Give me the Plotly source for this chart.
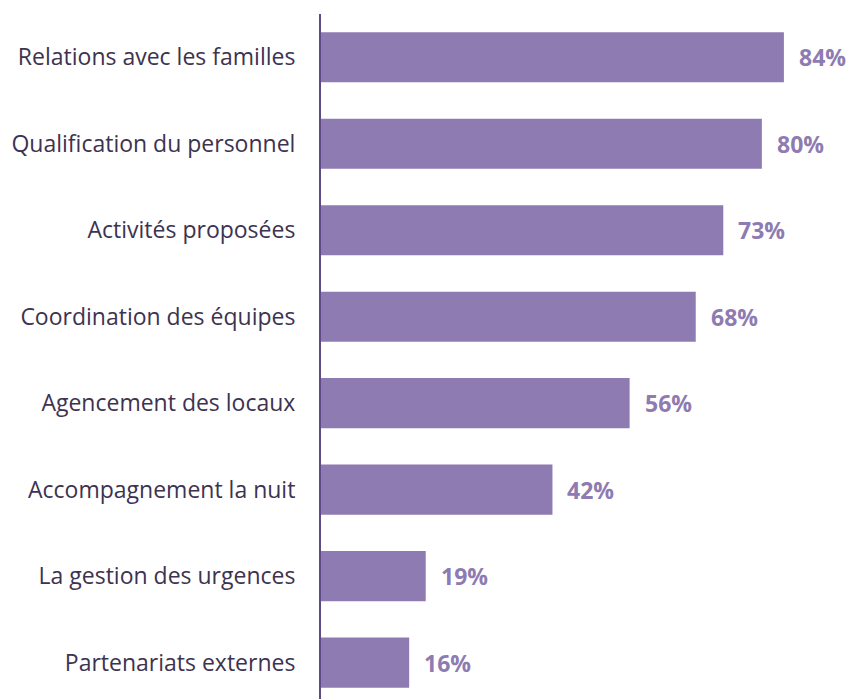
import plotly.graph_objects as go

# Share of respondents satisfied, by topic
categories = [
    "Relations avec les familles",
    "Qualification du personnel",
    "Activités proposées",
    "Coordination des équipes",
    "Agencement des locaux",
    "Accompagnement la nuit",
    "La gestion des urgences",
    "Partenariats externes",
]
values = [84, 80, 73, 68, 56, 42, 19, 16]

bar_color = "#8e7bb2"
label_color = "#8e7bb2"
text_color = "#3d3350"
axis_color = "#5e4a86"

fig = go.Figure()
fig.add_trace(go.Bar(
    x=values,
    y=categories,
    orientation="h",
    marker=dict(color=bar_color, line=dict(width=0)),
    width=0.58,
    hoverinfo="skip",
))

for cat, val in zip(categories, values):
    fig.add_annotation(
        x=val, y=cat, text=f"<b>{val}%</b>",
        xanchor="left", yanchor="middle", xshift=13, showarrow=False,
        font=dict(family="Open Sans", size=23, color=label_color),
    )

fig.update_layout(
    width=855, height=699,
    margin=dict(l=321, r=0, t=14, b=0),
    paper_bgcolor="white", plot_bgcolor="white",
    showlegend=False,
    xaxis=dict(range=[0, 96.9], visible=False, fixedrange=True),
    yaxis=dict(
        categoryorder="array", categoryarray=categories,
        range=[7.42, -0.5],
        showgrid=False, zeroline=False,
        showline=True, linecolor=axis_color, linewidth=2,
        ticks="", ticklabelstandoff=19,
        tickfont=dict(family="Open Sans", size=23, color=text_color),
    ),
)

fig.write_html("out.html")
